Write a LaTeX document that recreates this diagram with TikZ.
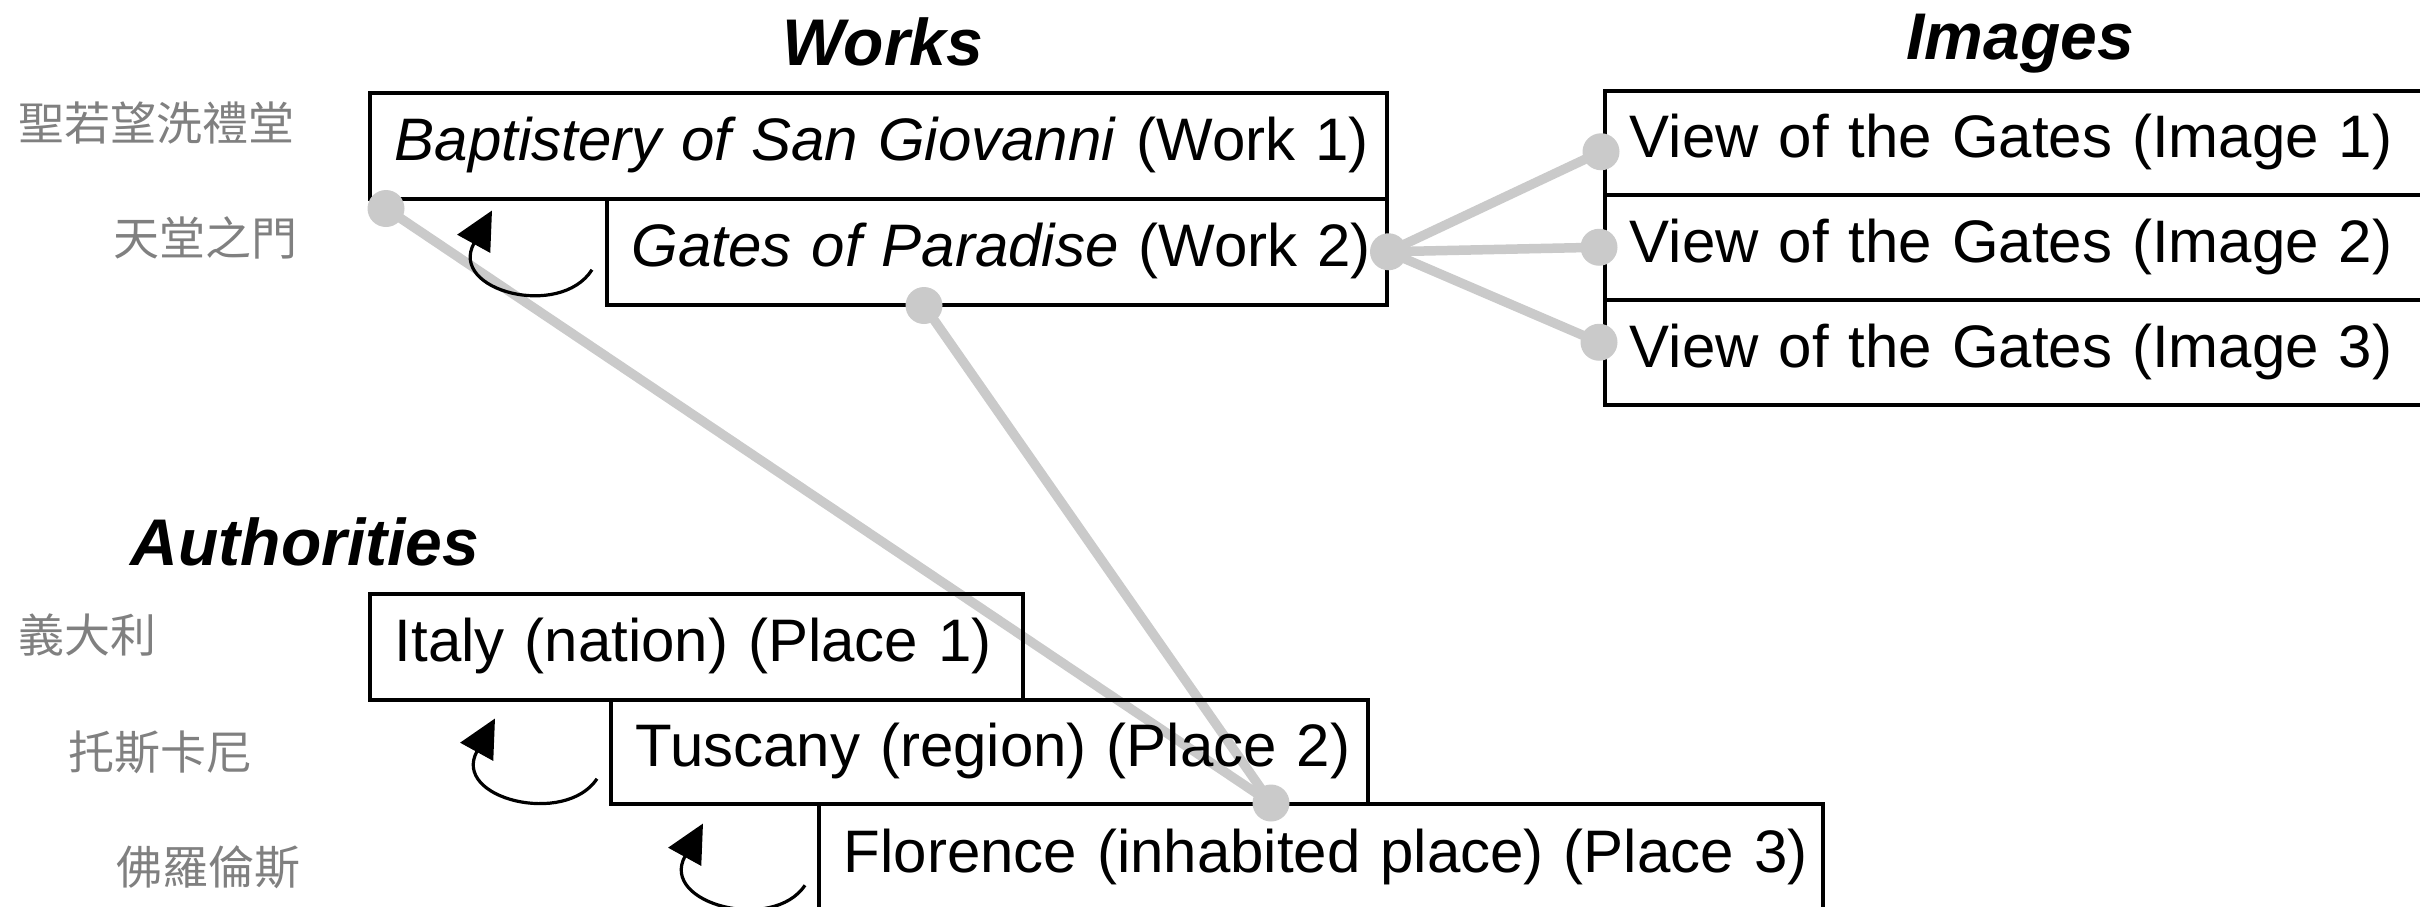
\documentclass[tikz,border=0pt]{standalone}
\usepackage{fontspec}
\setmainfont{Liberation Sans}
\newfontfamily\cjk{Noto Sans CJK TC}
\usetikzlibrary{calc,arrows.meta}
\pgfdeclarelayer{bg}
\pgfsetlayers{bg,main}
\definecolor{conncol}{RGB}{202,202,202}
\definecolor{cjkgray}{RGB}{128,128,128}
\begin{document}
\begin{tikzpicture}[x=1pt,y=-1pt,
  box/.style={draw=black, line width=3.5pt, rectangle, anchor=north west,
    inner xsep=25pt, inner ysep=0pt, align=left,
    font=\fontsize{60}{72}\selectfont, text height=44pt, text depth=14pt},
  title/.style={font=\fontsize{66}{80}\selectfont\bfseries\itshape, anchor=base, inner sep=0pt},
  cjklab/.style={font=\cjk\fontsize{46}{56}\selectfont, text=cjkgray, inner sep=0pt},
  link/.style={draw=conncol, line width=9.5pt},
  hub/.style={circle, fill=conncol, minimum size=37pt, inner sep=0pt},
  backarrow/.style={draw=black, line width=3.2pt, -{Triangle[length=38pt,width=37pt]}},
]
\useasboundingbox (0,0) rectangle (2420,906);

% titles
\node[title] (tW) at (883,65) {Works};
\node[title] (tI) at (2020,59) {Images};
\node[title] (tA) at (305,565) {Authorities};

% chinese labels
\node[cjklab] (k1) at (157,123) {聖若望洗禮堂};
\node[cjklab] (k2) at (205,238) {天堂之門};
\node[cjklab] (k3) at (88,635) {義大利};
\node[cjklab] (k4) at (160,752) {托斯卡尼};
\node[cjklab] (k5) at (208,867) {佛羅倫斯};

% works
\node[box, text width=967pt, minimum height=106pt] (W1) at (368,91)
  {\mbox{\textit{Baptistery of San Giovanni} (Work 1)}};
\node[box, text width=730pt, minimum height=106pt] (W2) at (605,197)
  {\mbox{\textit{Gates of Paradise} (Work 2)}};

% images
\node[box, text width=773pt, minimum height=104pt] (I1) at (1603,89)
  {\mbox{View of the Gates (Image 1)}};
\node[box, text width=773pt, minimum height=105pt] (I2) at (1603,193)
  {\mbox{View of the Gates (Image 2)}};
\node[box, text width=773pt, minimum height=105pt] (I3) at (1603,298)
  {\mbox{View of the Gates (Image 3)}};

% authorities
\node[box, text width=603pt, minimum height=106pt] (P1) at (368,592)
  {\mbox{Italy (nation) (Place 1)}};
\node[box, text width=707pt, minimum height=104pt] (P2) at (609,698)
  {\mbox{Tuscany (region) (Place 2)}};
\node[box, text width=954pt, minimum height=107pt] (P3) at (817,802)
  {\mbox{Florence (inhabited place) (Place 3)}};

% connector end points
\coordinate (c1) at ($(W1.south west)+(18,8)$);
\coordinate (c2) at ($(W2.south west)+(319,-1)$);
\coordinate (c3) at (W2.east);
\coordinate (c4) at ($(I1.west)+(-2,9)$);
\coordinate (c5) at ($(I2.west)+(-4,0)$);
\coordinate (c6) at ($(I3.west)+(-4,-10)$);
\coordinate (c7) at ($(P3.north west)+(454,1)$);

\begin{pgfonlayer}{bg}
  \draw[link] (c1) -- (c7);
  \draw[link] (c2) -- (c7);
  \draw[link] (c3) -- (c4);
  \draw[link] (c3) -- (c5);
  \draw[link] (c3) -- (c6);
\end{pgfonlayer}

\foreach \c in {c1,c2,c3,c4,c5,c6,c7}
  \node[hub] at (\c) {};

% hierarchy arrows
\coordinate (a1s) at ($(W2.west)+(-13,18)$);
\coordinate (a1e) at ($(W1.south west)+(124,10)$);
\draw[backarrow] (a1s) .. controls ($(a1s)+(-32,50)$) and ($(a1e)+(-44,80)$) .. (a1e);

\coordinate (a2s) at ($(P2.west)+(-12,27)$);
\coordinate (a2e) at ($(P1.south west)+(127,17)$);
\draw[backarrow] (a2s) .. controls ($(a2s)+(-32,48)$) and ($(a2e)+(-44,80)$) .. (a2e);

\coordinate (a3s) at ($(P3.west)+(-12,28)$);
\coordinate (a3e) at ($(P2.south west)+(94,18)$);
\draw[backarrow] (a3s) .. controls ($(a3s)+(-32,48)$) and ($(a3e)+(-44,80)$) .. (a3e);
\end{tikzpicture}
\end{document}
